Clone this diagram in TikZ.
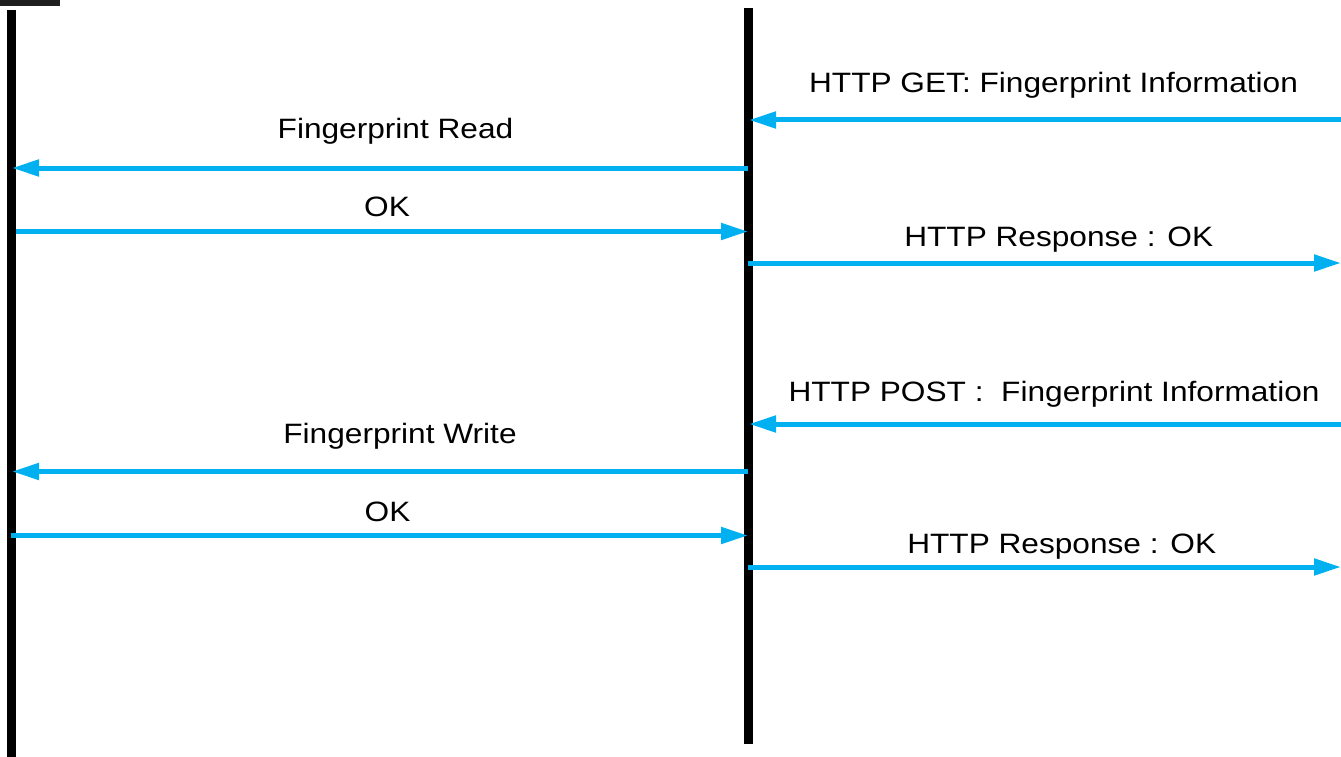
\documentclass[tikz,border=0pt]{standalone}
\usepackage{fontspec}
\setmainfont[FakeStretch=1.13]{Liberation Sans}
\usetikzlibrary{arrows.meta}
\definecolor{msgblue}{HTML}{00B0F0}
\begin{document}
\begin{tikzpicture}[x=1pt,y=-1pt,
  lifeline/.style={line width=9pt,black},
  msg/.style={line width=5pt,msgblue,-{Triangle[length=27pt,width=16pt]}},
  lbl/.style={anchor=base,inner sep=0pt,font=\fontsize{28}{34}\selectfont}]
\useasboundingbox (0,0) rectangle (1341,757);
% top-left cut-off box
\fill[black!88] (0,0) rectangle (60,6);
% lifelines
\coordinate (Ltop) at (11.5,10);
\coordinate (Lbot) at (11.5,757);
\coordinate (Mtop) at (748.5,8);
\coordinate (Mbot) at (748.5,744);
\draw[lifeline] (Ltop) -- (Lbot);
\draw[lifeline] (Mtop) -- (Mbot);
% endpoints
\coordinate (g1) at (1341,120);   \coordinate (g2) at (749,120);
\coordinate (r1) at (748,168);    \coordinate (r2) at (12,168);
\coordinate (o1) at (16,231.5);   \coordinate (o2) at (748,231.5);
\coordinate (h1) at (748,263);    \coordinate (h2) at (1341,263);
\coordinate (p1) at (1341,424);   \coordinate (p2) at (749,424);
\coordinate (w1) at (748,471.5);  \coordinate (w2) at (12,471.5);
\coordinate (k1) at (11,535.5);   \coordinate (k2) at (748,535.5);
\coordinate (s1) at (748,567);    \coordinate (s2) at (1341,567);
% messages
\draw[msg] (g1) -- (g2);
\draw[msg] (r1) -- (r2);
\draw[msg] (o1) -- (o2);
\draw[msg] (h1) -- (h2);
\draw[msg] (p1) -- (p2);
\draw[msg] (w1) -- (w2);
\draw[msg] (k1) -- (k2);
\draw[msg] (s1) -- (s2);
% labels
\node[lbl] (tg) at (1053.5,92.3) {HTTP GET: Fingerprint Information};
\node[lbl] (tr) at (395.5,138.3) {Fingerprint Read};
\node[lbl] (to) at (387,216.5) {OK};
\node[lbl] (th) at (1058.7,246.7) {HTTP Response : OK};
\node[lbl] (tp) at (1054,401.7) {HTTP POST :\ \ Fingerprint Information};
\node[lbl] (tw) at (400,443.3) {Fingerprint Write};
\node[lbl] (tk) at (387.5,521.7) {OK};
\node[lbl] (ts) at (1061.7,553.3) {HTTP Response : OK};
\end{tikzpicture}
\end{document}
